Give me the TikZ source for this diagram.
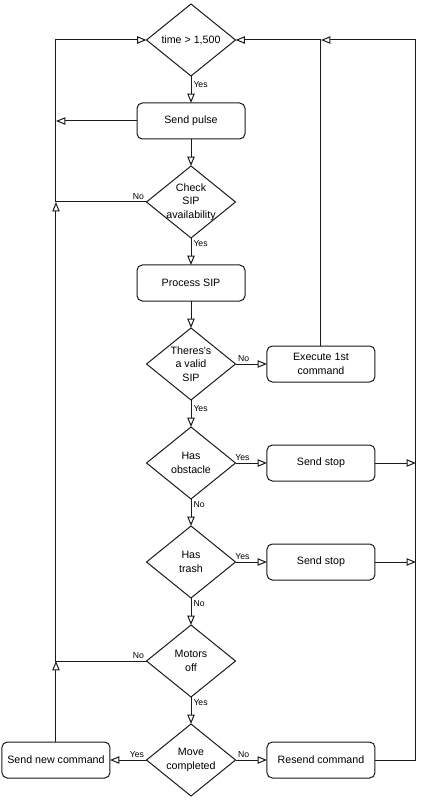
\documentclass[tikz,border=0pt]{standalone}
\usepackage{fontspec}
\setmainfont{Liberation Sans}
\usetikzlibrary{arrows.meta,positioning,shapes.geometric}
\definecolor{Linea}{HTML}{1A1A1A}

\begin{document}
\begin{tikzpicture}[
    node distance=20.25pt and 23.6pt,
    line width=0.75pt,
    caja/.style={draw=Linea,fill=white,rounded corners=4pt,minimum width=81pt,minimum height=27pt,outer sep=0pt,align=center,font=\fontsize{8}{10}\selectfont},
    rombo/.style={draw=Linea,fill=white,diamond,minimum width=66.75pt,minimum height=54pt,inner sep=0pt,outer sep=0pt},
    texto/.style={align=center,inner sep=0pt,font=\fontsize{8}{10}\selectfont},
    etiqueta/.style={inner sep=1.5pt,font=\fontsize{6.5}{8}\selectfont},
    flecha/.style={-{Triangle[open,length=7pt,width=5.5pt]},draw=Linea}]
    \useasboundingbox (-143.25pt,30pt) rectangle (172.5pt,-573.75pt);
    \node[rombo,label={[texto]center:time > 1,500}] (tiempo) at (0,0) {};
    \node[caja,below=of tiempo] (pulso) {Send pulse};
    \node[rombo,below=of pulso,label={[texto]center:Check\\SIP\\availability}] (revisar) {};
    \node[caja,below=of revisar] (procesar) {Process SIP};
    \node[rombo,below=of procesar,label={[texto]center:Theres\textquotesingle s\\a valid\\SIP}] (valido) {};
    \node[rombo,below=of valido,label={[texto]center:Has\\obstacle}] (obstaculo) {};
    \node[rombo,below=of obstaculo,label={[texto]center:Has\\trash}] (basura) {};
    \node[rombo,below=of basura,label={[texto]center:Motors\\off}] (motores) {};
    \node[rombo,below=of motores,label={[texto]center:Move\\completed}] (mover) {};
    \node[caja,right=of valido] (ejecutar) {Execute 1st\\command};
    \node[caja,right=of obstaculo] (parar1) {Send stop};
    \node[caja,right=of basura] (parar2) {Send stop};
    \node[caja,right=of mover] (reenviar) {Resend command};
    \node[caja,left=27.4pt of mover] (nuevo) {Send new command};
    \coordinate[right=30.75pt of reenviar] (derecha);
    \draw[flecha] (tiempo) -- node[etiqueta,right,pos=0.3] {Yes} (pulso);
    \draw[flecha] (pulso) -- (revisar);
    \draw[flecha] (revisar) -- node[etiqueta,right,pos=0.2] {Yes} (procesar);
    \draw[flecha] (procesar) -- (valido);
    \draw[flecha] (valido) -- node[etiqueta,right,pos=0.3] {Yes} (obstaculo);
    \draw[flecha] (obstaculo) -- node[etiqueta,right,pos=0.2] {No} (basura);
    \draw[flecha] (basura) -- node[etiqueta,right,pos=0.2] {No} (motores);
    \draw[flecha] (motores) -- node[etiqueta,right,pos=0.2] {Yes} (mover);
    \draw[flecha] (valido.east) node[etiqueta,above right] {No} -- (ejecutar);
    \draw[flecha] (obstaculo.east) node[etiqueta,above right,xshift=-2pt] {Yes} -- (parar1);
    \draw[flecha] (basura.east) node[etiqueta,above right,xshift=-2pt] {Yes} -- (parar2);
    \draw[flecha] (mover.east) node[etiqueta,above right] {No} -- (reenviar);
    \draw[flecha] (mover.west) node[etiqueta,above left] {Yes} -- (nuevo);
    \draw[flecha] (nuevo) -- (nuevo |- motores);
    \draw[flecha] (motores.west) node[etiqueta,above left] {No} -- (motores -| nuevo) -- (revisar -| nuevo);
    \draw[flecha] (revisar.west) node[etiqueta,above left] {No} -- (revisar -| nuevo) -- (tiempo -| nuevo) -- (tiempo);
    \draw[flecha] (pulso) -- (pulso -| nuevo);
    \draw[flecha] (ejecutar) |- (tiempo);
    \draw[flecha] (parar1) -- (parar1 -| derecha);
    \draw[flecha] (parar2) -- (parar2 -| derecha);
    \draw[flecha] (reenviar) -| (derecha |- tiempo) -- (ejecutar |- tiempo);
\end{tikzpicture}
\end{document}
